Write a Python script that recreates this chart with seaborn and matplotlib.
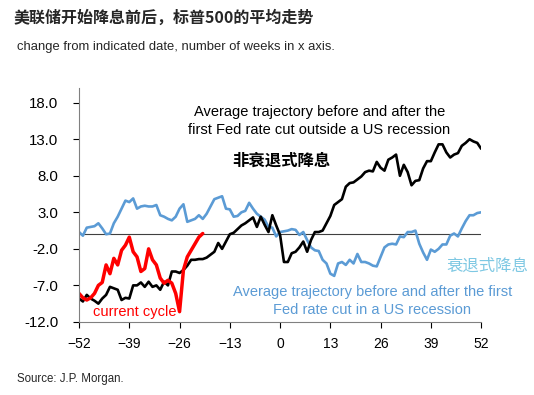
import numpy as np
import pandas as pd
import seaborn as sns
import matplotlib.pyplot as plt

# weeks relative to the first Fed cut
weeks = list(range(-52, 53))

# average path, first cut inside a US recession (blue)
recession = [0.3, -0.2, 0.9, 1.0, 1.1, 1.5, 0.8, 0.0, 0.1, 1.5, 2.4, 3.5, 4.6, 4.4, 4.9, 3.5,
             3.8, 3.9, 3.8, 3.8, 4.0, 2.6, 2.4, 2.1, 1.9, 2.4, 3.5, 4.1, 1.7, 1.9, 2.1, 2.6,
             2.1, 2.8, 3.8, 4.8, 5.0, 5.2, 3.5, 3.4, 2.4, 2.5, 3.0, 3.2, 4.3, 3.5, 2.8, 2.4,
             2.0, 1.0, 0.9, -0.3, 0.3, 0.4, 0.5, 0.7, 0.6, -0.1, 0.3, -0.8, -1.8, -2.2, -2.3,
             -3.5, -4.0, -5.4, -5.7, -4.0, -3.8, -4.2, -3.5, -4.0, -2.7, -3.8, -3.8, -4.0,
             -4.3, -4.4, -3.1, -1.8, -1.4, -1.3, -1.4, -0.3, -0.4, 0.3, 0.3, 0.5, -1.3, -2.5,
             -3.5, -2.1, -2.4, -2.0, -1.4, -1.4, -0.2, 0.1, -0.3, 0.8, 1.8, 2.6, 2.6, 2.9, 3.0]

# average path, first cut outside a recession (black)
no_recession = [-8.8, -9.2, -8.3, -8.8, -9.1, -9.5, -8.8, -8.3, -7.2, -7.4, -7.6, -9.0, -8.7,
                -8.8, -7.0, -7.0, -6.6, -7.2, -6.5, -7.2, -7.0, -7.6, -6.5, -7.0, -5.1, -5.1,
                -5.3, -4.9, -4.3, -3.5, -3.5, -3.4, -3.4, -3.2, -2.8, -2.4, -1.2, -2.0, -1.0,
                0.0, 0.2, 0.7, 1.2, 1.5, 1.9, 2.3, 1.0, 2.4, 1.3, 0.3, 2.6, 1.2, -0.1, -3.8,
                -3.8, -2.6, -2.4, -1.8, -1.0, -2.4, -0.8, 0.3, 0.3, 0.5, 1.5, 2.5, 4.0, 4.4,
                4.8, 6.5, 7.0, 7.1, 7.5, 7.9, 8.5, 8.7, 8.6, 9.9, 9.1, 8.7, 10.2, 10.5, 10.9,
                8.0, 9.5, 8.5, 6.7, 7.3, 7.4, 9.0, 10.0, 10.0, 11.2, 12.3, 12.3, 11.2, 10.5,
                10.9, 11.1, 12.1, 12.5, 13.0, 12.7, 12.5, 11.7]

# current cycle (red)
current_weeks = list(range(-52, -19))
current = [-8.1, -8.7, -9.0, -8.7, -8.1, -7.0, -6.6, -4.2, -5.4, -3.3, -4.2, -2.2, -1.5, -0.4,
           -2.4, -3.1, -5.1, -4.7, -2.0, -3.5, -4.2, -6.0, -6.7, -6.3, -6.7, -8.1, -10.6, -4.9,
           -3.1, -2.2, -1.3, -0.4, 0.1]

xticks = [-52, -39, -26, -13, 0, 13, 26, 39, 52]
yticks = [-12, -7, -2, 3, 8, 13, 18]

sns.set_theme(style="white")
plt.rcParams['font.family'] = ['Liberation Sans', 'Noto Sans CJK SC', 'DejaVu Sans']
cjk = ['Noto Sans CJK SC', 'DejaVu Sans']

fig = plt.figure(figsize=(5.34, 3.95), dpi=100)
ax = fig.add_axes([0.148, 0.185, 0.753, 0.592])

ax.axhline(0, color='#404040', lw=0.8, zorder=1)
sns.lineplot(x=weeks, y=recession, color='#5B9BD5', lw=1.9, ax=ax)
sns.lineplot(x=weeks, y=no_recession, color='black', lw=1.9, ax=ax)
sns.lineplot(x=current_weeks, y=current, color='#FF0000', lw=2.5, ax=ax)

ax.set_xlim(-52, 52)
ax.set_ylim(-12, 20)
ax.set_xticks(xticks)
ax.set_yticks(yticks)
ax.set_yticklabels([f'{v:.1f}' for v in yticks])
ax.tick_params(axis='both', colors='black', length=4, width=0.8,
               direction='out', bottom=True, left=True)
ax.tick_params(axis='x', labelsize=10, pad=7)
ax.tick_params(axis='y', labelsize=10.8, pad=11)
for s in ['top', 'right']:
    ax.spines[s].set_visible(False)
for s in ['left', 'bottom']:
    ax.spines[s].set_color('#808080')
    ax.spines[s].set_linewidth(0.8)

# annotations
ax.text(10.2, 15.5, 'Average trajectory before and after the\nfirst Fed rate cut outside a US recession',
        ha='center', va='center', fontsize=10.5, color='black', linespacing=1.4)
ax.text(0.3, 10.1, '非衰退式降息', ha='center', va='center', fontsize=11.8,
        fontweight='bold', color='black', family=cjk)
ax.text(53.5, -4.4, '衰退式降息', ha='center', va='center', fontsize=11.8,
        color='#7EC8E3', family=cjk, clip_on=False)
ax.text(23.9, -9.1, 'Average trajectory before and after the first\nFed rate cut in a US recession',
        ha='center', va='center', fontsize=10.5, color='#5B9BD5', linespacing=1.35)
ax.text(-37.5, -10.6, 'current cycle', ha='center', va='center', fontsize=10.5, color='#FF0000')

fig.text(0.026, 0.955, '美联储开始降息前后，标普500的平均走势', fontsize=11.5, fontweight='bold',
         ha='left', va='center', family=cjk)
fig.text(0.032, 0.882, 'change from indicated date, number of weeks in x axis.', fontsize=9.4,
         color='#262626', ha='left', va='center')
fig.text(0.032, 0.04, 'Source: J.P. Morgan.', fontsize=8.3, color='#262626', ha='left', va='center')

fig.savefig('out.png', dpi=100)
